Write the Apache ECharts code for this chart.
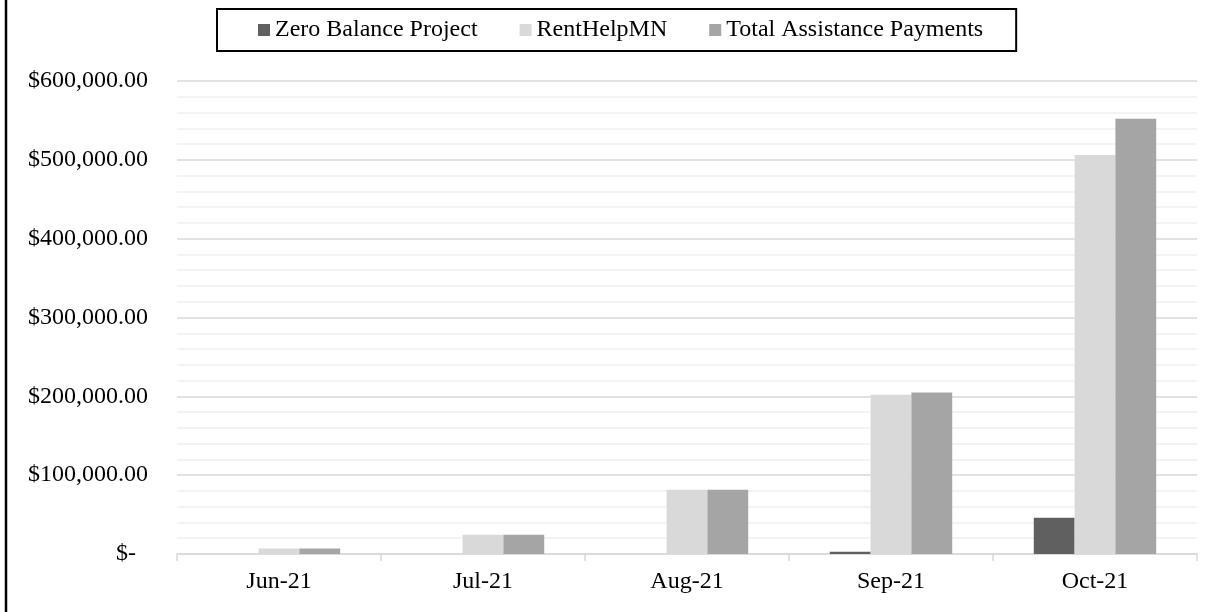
<!DOCTYPE html>
<html>
<head>
<meta charset="utf-8">
<title>Assistance Payments by Month</title>
<script src="https://cdn.jsdelivr.net/npm/echarts@6/dist/echarts.min.js"></script>
<style>
  html, body { margin: 0; padding: 0; background: #ffffff; }
  #chart { width: 1218px; height: 612px; }
</style>
</head>
<body>
<div id="chart"></div>
<script>
// Monthly payments, in dollars
const months = ['Jun-21', 'Jul-21', 'Aug-21', 'Sep-21', 'Oct-21'];
const zeroBalanceProject = [0, 0, 0, 3000, 46000];
const rentHelpMN = [7000, 24500, 81500, 202000, 506000];
const totalAssistancePayments = [7000, 24500, 81500, 205000, 552000];

const FONT = '"Liberation Serif", "Times New Roman", serif';

function money(v) {
  if (v === 0) return '$-  ';
  return '$' + v.toLocaleString('en-US', { minimumFractionDigits: 2, maximumFractionDigits: 2 });
}

const chart = echarts.init(document.getElementById('chart'), null, { renderer: 'canvas' });

chart.setOption({
  animation: false,
  backgroundColor: '#ffffff',
  textStyle: { fontFamily: FONT, color: '#000000' },
  legend: {
    top: 9,
    left: 217,
    padding: [9, 33, 9, 41],
    borderColor: '#000000',
    borderWidth: 2,
    icon: 'rect',
    itemWidth: 12,
    itemHeight: 12,
    itemGap: 42,
    textStyle: { fontFamily: FONT, fontSize: 24, color: '#000000' },
    data: ['Zero Balance Project', 'RentHelpMN', 'Total Assistance Payments']
  },
  grid: { left: 177, right: 21, top: 81, bottom: 58, containLabel: false },
  xAxis: {
    type: 'category',
    data: months,
    axisLine: { lineStyle: { color: '#d9d9d9', width: 1.5 } },
    axisTick: { show: true, length: 7, alignWithLabel: false, lineStyle: { color: '#d9d9d9', width: 1.5 } },
    axisLabel: { fontFamily: FONT, fontSize: 24, color: '#000000', margin: 16 }
  },
  yAxis: {
    type: 'value',
    min: 0,
    max: 600000,
    interval: 100000,
    axisLine: { show: false },
    axisTick: { show: false },
    axisLabel: { fontFamily: FONT, fontSize: 24, color: '#000000', margin: 29, formatter: money },
    splitLine: { show: true, lineStyle: { color: '#d9d9d9', width: 1.5 } },
    minorTick: { show: false, splitNumber: 5 },
    minorSplitLine: { show: true, lineStyle: { color: '#f0f0f0', width: 1.5 } }
  },
  series: [
    {
      name: 'Zero Balance Project',
      type: 'bar',
      data: zeroBalanceProject,
      itemStyle: { color: '#606060' },
      barGap: '0%',
      barCategoryGap: '40%'
    },
    {
      name: 'RentHelpMN',
      type: 'bar',
      data: rentHelpMN,
      itemStyle: { color: '#d9d9d9' },
      barGap: '0%',
      barCategoryGap: '40%'
    },
    {
      name: 'Total Assistance Payments',
      type: 'bar',
      data: totalAssistancePayments,
      itemStyle: { color: '#a5a5a5' },
      barGap: '0%',
      barCategoryGap: '40%'
    }
  ],
  graphic: [
    {
      type: 'line',
      shape: { x1: 6, y1: 0, x2: 6, y2: 612 },
      style: { stroke: '#000000', lineWidth: 2.5 }
    }
  ]
});
</script>
</body>
</html>
